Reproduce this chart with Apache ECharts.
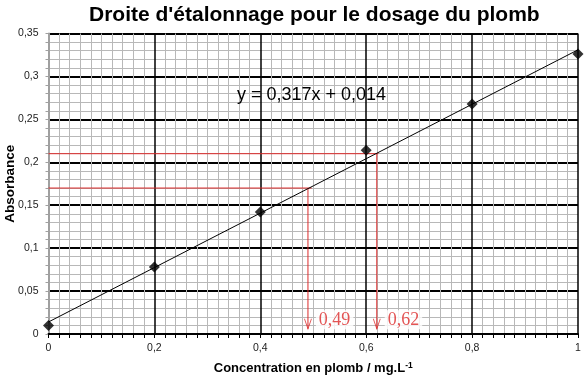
<!DOCTYPE html>
<html>
<head>
<meta charset="utf-8">
<script src="https://cdn.jsdelivr.net/npm/echarts@6/dist/echarts.min.js"></script>
<style>html,body{margin:0;padding:0;background:#fff}#c{width:584px;height:375px}</style>
</head>
<body>
<div id="c"></div>
<script>
var concentrations = [0, 0.2, 0.4, 0.6, 0.8, 1];
var absorbances = [0.010, 0.078, 0.142, 0.214, 0.268, 0.326];
var trendX = [0, 1];
var trendY = [0.014, 0.331];
var readAbs = [0.17, 0.21];
var readConc = [0.49, 0.62];
var readLabels = ['0,49', '0,62'];
var horizEnd = [0.497, 0.623];
var arrowTipY = 0.006;
var equationText = 'y = 0,317x + 0,014';

function fmt(v) { return String(+v.toFixed(2)).replace('.', ','); }

var FONT = 'Liberation Sans, Arial, sans-serif';
var RED = '#dc2a2a';
var series = [];
series.push({
  type: 'line', data: trendX.map(function (x, i) { return [x, trendY[i]]; }),
  showSymbol: false, lineStyle: { color: '#000', width: 1 }, z: 5, silent: true
});
readAbs.forEach(function (a, i) {
  series.push({
    type: 'line', data: [[0, a], [horizEnd[i], a]], showSymbol: false,
    lineStyle: { color: RED, width: 1 }, z: 4, silent: true
  });
  series.push({
    type: 'line', data: [[readConc[i], a], [readConc[i], arrowTipY]], showSymbol: false,
    lineStyle: { color: RED, width: 1 }, z: 4, silent: true
  });
  series.push({
    type: 'scatter', data: [[readConc[i], arrowTipY]],
    symbol: 'path://M0,0L5,14L10,0', symbolSize: [7, 10], symbolOffset: [0, -5],
    itemStyle: { color: 'rgba(0,0,0,0)', borderColor: RED, borderWidth: 1 },
    label: {
      show: true, position: 'right', distance: 4, offset: [0, -4],
      formatter: readLabels[i], color: RED,
      fontFamily: 'Liberation Serif, Times New Roman, serif', fontSize: 18,
      backgroundColor: '#fff', padding: [1, 3, 0, 3]
    },
    z: 6, silent: true
  });
});
series.push({
  type: 'scatter', data: concentrations.map(function (x, i) { return [x, absorbances[i]]; }),
  symbol: 'diamond', symbolSize: 11, itemStyle: { color: '#000' }, z: 7, silent: true
});

var chart = echarts.init(document.getElementById('c'), null, { renderer: 'canvas' });
chart.setOption({
  animation: false,
  backgroundColor: '#fff',
  title: {
    text: "Droite d'étalonnage pour le dosage du plomb",
    left: 84, top: 0,
    textStyle: { fontFamily: FONT, fontWeight: 'bold', fontSize: 21, color: '#000' }
  },
  graphic: [{
    type: 'text', left: 237, top: 86,
    style: { text: equationText, fontFamily: FONT, fontSize: 18, fill: '#000' },
    z: 10
  }],
  grid: { left: 48.5, right: 6, top: 33.5, bottom: 41, containLabel: false, outerBoundsMode: 'none' },
  xAxis: {
    type: 'value', min: 0, max: 1, interval: 0.2,
    name: 'Concentration en plomb / mg.L{sup|-1}', nameLocation: 'middle', nameGap: 27,
    nameMoveOverlap: false,
    nameTextStyle: {
      fontFamily: FONT, fontWeight: 'bold', fontSize: 13, color: '#000',
      rich: { sup: { fontSize: 8.5, fontWeight: 'bold', verticalAlign: 'top', padding: [0, 0, 6, 0], fontFamily: FONT, color: '#000' } }
    },
    axisLine: { show: true, onZero: false, lineStyle: { color: '#000', width: 2 } },
    axisTick: { show: true, length: 4, lineStyle: { color: '#000', width: 1 } },
    minorTick: { show: true, splitNumber: 10, length: 4, lineStyle: { color: '#000', width: 1 } },
    axisLabel: { formatter: fmt, fontFamily: FONT, fontSize: 10.5, color: '#222', margin: 9 },
    splitLine: { show: true, showMinLine: false, lineStyle: { color: '#000', width: 1.5 } },
    minorSplitLine: { show: true, lineStyle: { color: '#b8b8b8', width: 1 } }
  },
  yAxis: {
    type: 'value', min: 0, max: 0.35, interval: 0.05,
    name: 'Absorbance', nameLocation: 'middle', nameGap: 31, nameRotate: 90,
    nameMoveOverlap: false,
    nameTextStyle: { fontFamily: FONT, fontWeight: 'bold', fontSize: 13.5, color: '#000' },
    axisLine: { show: true, lineStyle: { color: '#a0a0a0', width: 2 } },
    axisTick: { show: true, length: 3, lineStyle: { color: '#a0a0a0' } },
    minorTick: { show: true, splitNumber: 5, length: 3, lineStyle: { color: '#a0a0a0' } },
    axisLabel: { formatter: fmt, fontFamily: FONT, fontSize: 10.5, color: '#222', margin: 10 },
    splitLine: { show: true, showMinLine: false, lineStyle: { color: '#000', width: 2 } },
    minorSplitLine: { show: true, lineStyle: { color: '#b8b8b8', width: 1 } }
  },
  series: series
});
</script>
</body>
</html>
